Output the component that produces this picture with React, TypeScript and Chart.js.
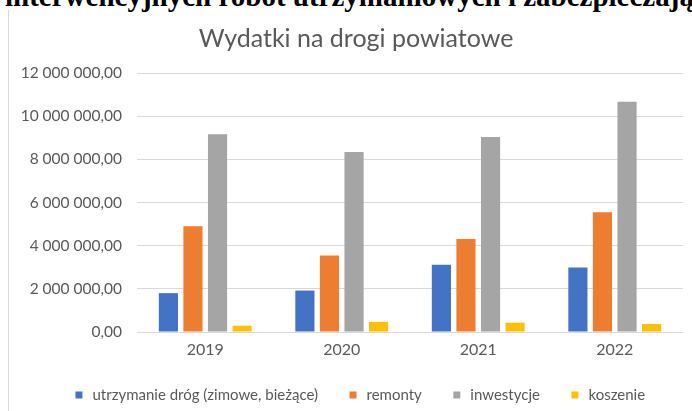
import React, { useEffect, useRef } from "react";
import { Chart, registerables } from "chart.js";

Chart.register(...registerables);

const categories = ["2019", "2020", "2021", "2022"];
const seriesNames = ["utrzymanie dróg (zimowe, bieżące)", "remonty", "inwestycje", "koszenie"];
const utrzymanie = [1800000, 1920000, 3120000, 2990000];
const remonty = [4900000, 3550000, 4310000, 5550000];
const inwestycje = [9160000, 8340000, 9040000, 10670000];
const koszenie = [290000, 470000, 430000, 370000];
const seriesColors = ["#4472C4", "#ED7D31", "#A5A5A5", "#FFC000"];
const yTicks = [0, 2000000, 4000000, 6000000, 8000000, 10000000, 12000000];
const chartTitle = "Wydatki na drogi powiatowe";
const headerText = "interwencyjnych robót utrzymaniowych i zabezpieczających";

const FONT = "Lato, 'Open Sans', sans-serif";

function fmt(v: number): string {
  const whole = Math.round(v).toString().replace(/\B(?=(\d{3})+(?!\d))/g, " ");
  return whole + ",00";
}

const shiftBlocks = {
  id: "shiftBlocks",
  afterLayout(chart: any) {
    const l = chart.legend;
    if (l) {
      l.left += 13;
      l.right += 13;
    }
    const t = chart.titleBlock;
    if (t) {
      t.left += 10;
      t.right += 10;
    }
  },
};

export default function App() {
  const ref = useRef<HTMLCanvasElement | null>(null);
  useEffect(() => {
    if (!ref.current) return;
    const values = [utrzymanie, remonty, inwestycje, koszenie];
    const chart = new Chart(ref.current, {
      type: "bar",
      data: {
        labels: categories,
        datasets: seriesNames.map((n, i) => ({
          label: n,
          data: values[i],
          backgroundColor: seriesColors[i],
          borderWidth: 0,
          categoryPercentage: 0.72,
          barPercentage: 0.78,
        })),
      },
      plugins: [shiftBlocks],
      options: {
        animation: false,
        responsive: false,
        maintainAspectRatio: false,
        layout: { padding: { left: 0, right: 9, top: 0, bottom: 0 } },
        plugins: {
          title: {
            display: true,
            text: chartTitle,
            color: "#595959",
            font: { family: FONT, size: 25, weight: "normal" },
            padding: { top: 12, bottom: 19 },
          },
          legend: {
            position: "bottom",
            maxHeight: 52.5,
            labels: {
              usePointStyle: true,
              pointStyle: "rect",
              boxWidth: 12,
              boxHeight: 7,
              padding: 29,
              color: "#595959",
              font: { family: FONT, size: 15 },
            },
          },
          tooltip: { enabled: false },
        },
        scales: {
          x: {
            afterFit: (axis: any) => {
              axis.height = 26.5;
            },
            grid: { display: false, drawTicks: false },
            border: { display: false },
            ticks: { color: "#595959", font: { family: FONT, size: 16 }, padding: 8 },
          },
          y: {
            min: 0,
            max: 12000000,
            afterFit: (axis: any) => {
              axis.width = 128;
            },
            afterBuildTicks: (axis: any) => {
              axis.ticks = yTicks.map((v) => ({ value: v }));
            },
            grid: { color: "#D9D9D9", lineWidth: 1, drawTicks: false },
            border: { display: false },
            ticks: {
              color: "#595959",
              font: { family: FONT, size: 15.5 },
              padding: 15,
              callback: (v: any) => fmt(Number(v)),
            },
          },
        },
      },
    });
    return () => chart.destroy();
  }, []);

  return (
    <div style={{ position: "fixed", left: 0, top: 0, width: 692, height: 411, background: "#fff", overflow: "hidden" }}>
      <div
        style={{
          position: "absolute",
          left: 5,
          top: -20,
          whiteSpace: "nowrap",
          fontFamily: "'Liberation Serif', 'Times New Roman', serif",
          fontWeight: "bold",
          fontSize: 29,
          lineHeight: "32px",
          color: "#000",
        }}
      >
        {headerText}
      </div>
      <div
        style={{
          position: "absolute",
          left: 8,
          top: 10,
          width: 1,
          height: 401,
          background: "#D9D9D9",
        }}
      />
      <canvas
        ref={ref}
        width={683}
        height={399}
        style={{ position: "absolute", left: 9, top: 12, display: "block", width: 683, height: 399 }}
      />
    </div>
  );
}
